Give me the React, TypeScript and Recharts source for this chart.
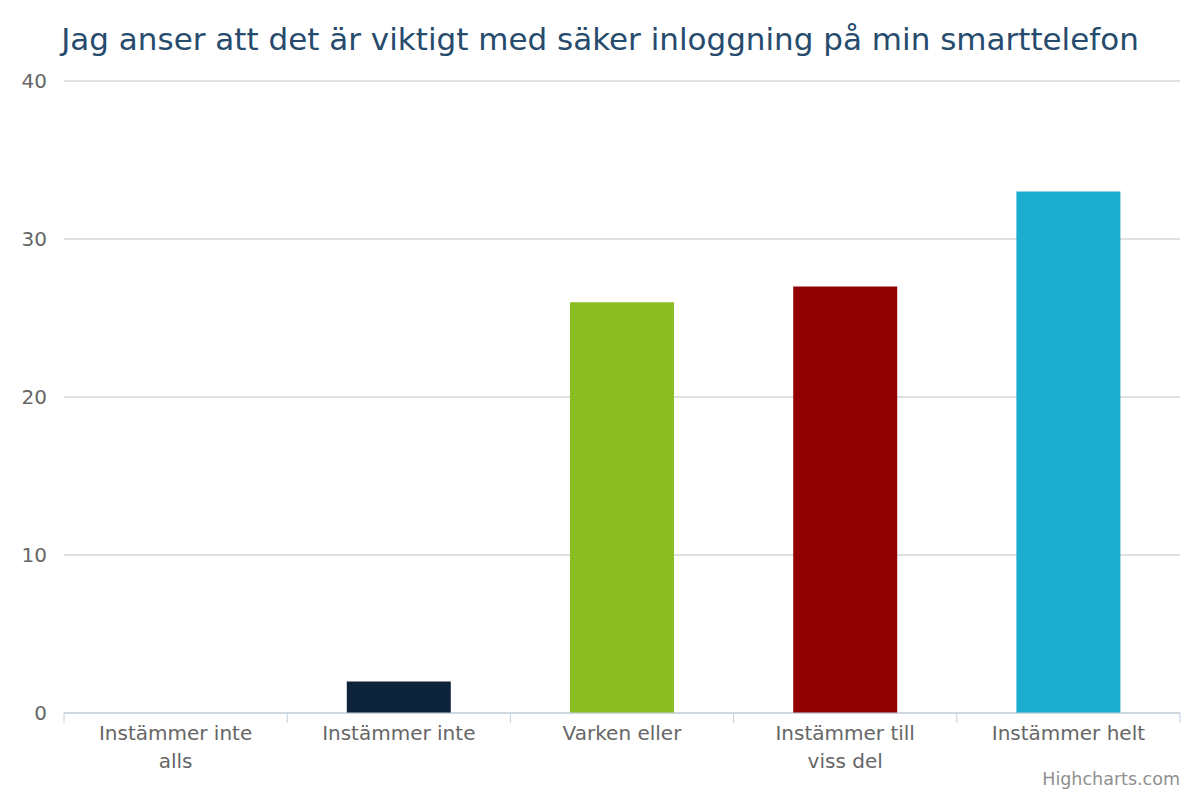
import { BarChart, Bar, XAxis, YAxis, CartesianGrid, Cell } from 'recharts';

const categories = ['Instämmer inte alls', 'Instämmer inte', 'Varken eller', 'Instämmer till viss del', 'Instämmer helt'];
const values = [0, 2, 26, 27, 33];
const colors = ['#2f7ed8', '#0d233a', '#8bbc21', '#910000', '#1aadce'];
const yTicks = [0, 10, 20, 30, 40];

const data = categories.map((name, i) => ({ name, value: values[i] }));

const FONT = '"DejaVu Sans", sans-serif';

// greedy wrap, like Highcharts does for long category labels
function wrap(label: string, maxChars = 15) {
  const lines: string[] = [];
  let cur = '';
  label.split(' ').forEach((w) => {
    const next = cur ? cur + ' ' + w : w;
    if (next.length > maxChars && cur) {
      lines.push(cur);
      cur = w;
    } else {
      cur = next;
    }
  });
  if (cur) lines.push(cur);
  return lines;
}

function CategoryTick(props: any) {
  const { x, y, payload, index } = props;
  const half = payload.offset ?? 0;
  const lineTop = y - 13;
  return (
    <g>
      <line x1={x - half} x2={x - half} y1={lineTop} y2={lineTop + 10} stroke="#C0D0E0" />
      {index === categories.length - 1 && (
        <line x1={x + half} x2={x + half} y1={lineTop} y2={lineTop + 10} stroke="#C0D0E0" />
      )}
      <text x={x} y={y + 14} textAnchor="middle" fill="#666666" fontSize={20} fontFamily={FONT}>
        {wrap(String(payload.value)).map((line, i) => (
          <tspan key={i} x={x} dy={i === 0 ? 0 : 28}>{line}</tspan>
        ))}
      </text>
    </g>
  );
}

export default function App() {
  return (
    <div style={{ position: 'absolute', left: 0, top: 0, width: 1200, height: 800, background: '#fff', fontFamily: FONT }}>
      <div style={{ position: 'absolute', top: 21, left: 0, width: 1200, textAlign: 'center', fontSize: 31, color: '#274b6d' }}>
        Jag anser att det är viktigt med säker inloggning på min smarttelefon
      </div>
      <BarChart width={1200} height={800} data={data} margin={{ top: 81, right: 20, bottom: 27, left: 0 }}
        barCategoryGap="26.7%">
        <CartesianGrid horizontal vertical={false} stroke="#C0C0C0" />
        <YAxis domain={[0, 40]} ticks={yTicks} width={64} axisLine={false} tickLine={false}
          tickSize={6} tickMargin={11} tick={{ fill: '#666666', fontSize: 20, fontFamily: FONT }} />
        <XAxis dataKey="name" height={60} axisLine={{ stroke: '#C0D0E0' }} tickLine={false}
          tickSize={10} tickMargin={3} interval={0} tick={<CategoryTick />} />
        <Bar dataKey="value" isAnimationActive={false}>
          {data.map((d, i) => (
            <Cell key={d.name} fill={colors[i]} />
          ))}
        </Bar>
      </BarChart>
      <div style={{ position: 'absolute', right: 20, top: 769, fontSize: 17.5, color: '#909090' }}>Highcharts.com</div>
    </div>
  );
}
